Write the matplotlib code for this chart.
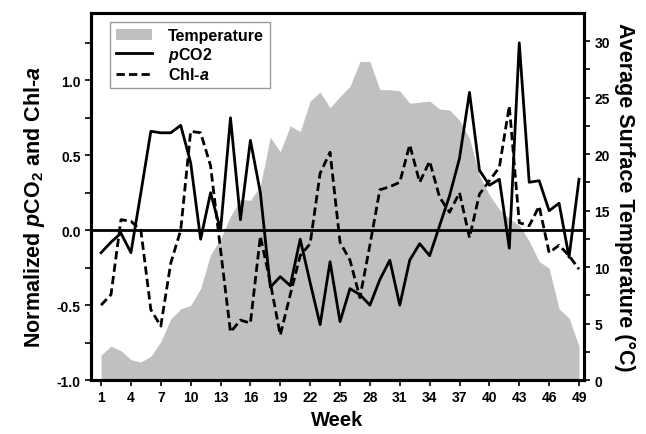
import numpy as np
import matplotlib
matplotlib.use("Agg")
import matplotlib.pyplot as plt
from matplotlib.patches import Patch
from matplotlib.lines import Line2D

plt.rcParams["font.family"] = ["Liberation Sans", "DejaVu Sans"]
plt.rcParams["font.weight"] = "bold"
plt.rcParams["mathtext.fontset"] = "custom"
plt.rcParams["mathtext.rm"] = "Liberation Sans:bold"
plt.rcParams["mathtext.it"] = "Liberation Sans:italic:bold"
plt.rcParams["mathtext.bf"] = "Liberation Sans:bold"

weeks = list(range(1, 50))

pco2 = [-0.15, -0.08, -0.02, -0.15, 0.25, 0.66, 0.65, 0.65, 0.70, 0.45,
        -0.06, 0.25, 0.00, 0.75, 0.07, 0.60, 0.25, -0.38, -0.31, -0.37,
        -0.06, -0.35, -0.63, -0.21, -0.61, -0.39, -0.43, -0.50, -0.33, -0.20,
        -0.50, -0.20, -0.09, -0.17, 0.03, 0.23, 0.48, 0.92, 0.40, 0.30,
        0.34, -0.12, 1.25, 0.32, 0.33, 0.13, 0.18, -0.18, 0.34]

chla = [-0.50, -0.43, 0.07, 0.06, 0.00, -0.53, -0.64, -0.22, 0.00, 0.66,
        0.65, 0.43, -0.13, -0.68, -0.60, -0.62, -0.04, -0.35, -0.70, -0.43,
        -0.17, -0.09, 0.38, 0.52, -0.08, -0.20, -0.45, -0.10, 0.27, 0.29,
        0.32, 0.57, 0.32, 0.46, 0.22, 0.12, 0.25, -0.05, 0.24, 0.33,
        0.42, 0.83, 0.05, 0.03, 0.16, -0.15, -0.10, -0.17, -0.26]

temperature = [2.2, 3.0, 2.6, 1.8, 1.6, 2.1, 3.4, 5.4, 6.3, 6.6,
               8.1, 11.1, 12.5, 14.5, 16.0, 15.9, 17.2, 21.5, 20.2, 22.5,
               22.0, 24.7, 25.5, 24.1, 25.1, 26.0, 28.2, 28.2, 25.7, 25.7,
               25.6, 24.5, 24.6, 24.7, 24.0, 23.9, 23.0, 21.4, 18.1, 16.4,
               15.1, 14.3, 13.7, 12.3, 10.5, 9.9, 6.3, 5.5, 3.0]

fig = plt.figure(figsize=(6.46, 4.35), dpi=100)
ax = fig.add_axes([0.141, 0.124, 0.763, 0.844])
ax2 = ax.twinx()

# temperature goes behind the two lines
ax2.fill_between(weeks, 0, temperature, color="#c0c0c0", lw=0)
ax.set_zorder(ax2.get_zorder() + 1)
ax.patch.set_visible(False)

ax.axhline(0, color="black", lw=2)
ax.plot(weeks, pco2, color="black", lw=2)
ax.plot(weeks, chla, color="black", lw=2, dashes=(3, 1.5))

ax.set_xlim(0, 49.5)
ax.set_ylim(-1.0, 1.45)
ax2.set_ylim(0, 32.5)

ax.set_xticks(range(1, 50, 3))
ax.set_yticks(np.arange(-1.0, 1.01, 0.5))
ax.set_yticks(np.arange(-1.0, 1.3, 0.25), minor=True)
ax.set_yticklabels(["-1.0", "-0.5", "0.0", "0.5", "1.0"])
ax2.set_yticks(range(0, 31, 5))
ax2.set_yticks(np.arange(0, 32, 2.5), minor=True)

for a in (ax, ax2):
    for s in a.spines.values():
        s.set_linewidth(2.2)
    a.tick_params(direction="out", length=4, width=1.2, labelsize=10)
    a.tick_params(which="minor", direction="out", length=4, width=1.2)

ax.set_xlabel("Week", fontsize=14.5, fontweight="bold", labelpad=4)
ax.set_ylabel("Normalized $\\it{p}$CO$_2$ and Chl-$\\it{a}$", fontsize=15.5,
              fontweight="bold", labelpad=3)
ax.yaxis.set_label_coords(-0.09, 0.475)
ax2.set_ylabel("Average Surface Temperature (\u00b0C)", fontsize=15.5,
               fontweight="bold", rotation=270, labelpad=18)

handles = [Patch(facecolor="#c0c0c0", edgecolor="none"),
           Line2D([], [], color="black", lw=2),
           Line2D([], [], color="black", lw=2, dashes=(3, 1.5))]
labels = ["Temperature", "$\\it{p}$CO2", "Chl-$\\it{a}$"]
leg = ax.legend(handles, labels, loc="upper left", bbox_to_anchor=(0.0385, 0.975),
                borderaxespad=0, fancybox=False, frameon=True, fontsize=11.5,
                handlelength=2.3, handletextpad=1.0, labelspacing=0.15,
                borderpad=0.35)
leg.get_frame().set_edgecolor("#808080")
leg.get_frame().set_linewidth(1)

fig.savefig("out.png", dpi=100)
